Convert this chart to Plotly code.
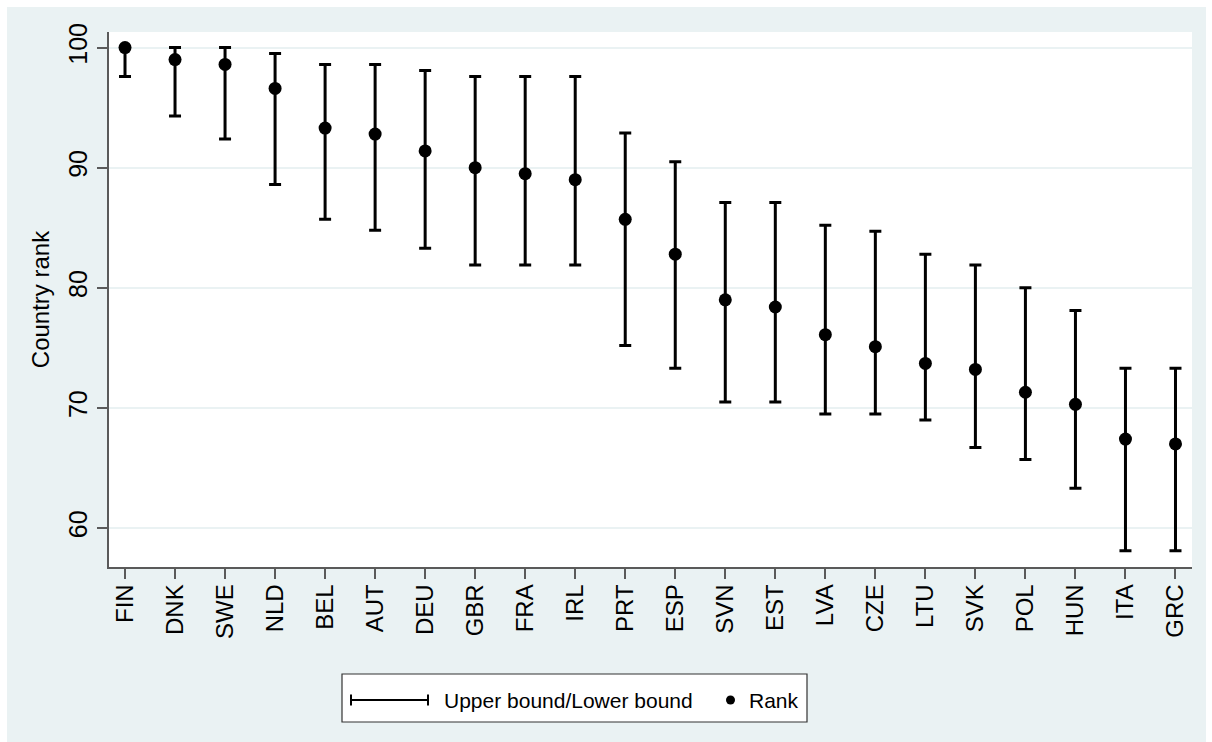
import plotly.graph_objects as go

# Country ranks with their upper/lower bounds
countries = ["FIN", "DNK", "SWE", "NLD", "BEL", "AUT", "DEU", "GBR", "FRA", "IRL", "PRT",
             "ESP", "SVN", "EST", "LVA", "CZE", "LTU", "SVK", "POL", "HUN", "ITA", "GRC"]
rank = [100.0, 99.0, 98.6, 96.6, 93.3, 92.8, 91.4, 90.0, 89.5, 89.0, 85.7,
        82.8, 79.0, 78.4, 76.1, 75.1, 73.7, 73.2, 71.3, 70.3, 67.4, 67.0]
upper = [100.0, 100.0, 100.0, 99.5, 98.6, 98.6, 98.1, 97.6, 97.6, 97.6, 92.9,
         90.5, 87.1, 87.1, 85.2, 84.7, 82.8, 81.9, 80.0, 78.1, 73.3, 73.3]
lower = [97.6, 94.3, 92.4, 88.6, 85.7, 84.8, 83.3, 81.9, 81.9, 81.9, 75.2,
         73.3, 70.5, 70.5, 69.5, 69.5, 69.0, 66.7, 65.7, 63.3, 58.1, 58.1]
y_ticks = [60, 70, 80, 90, 100]

W, H = 1212, 742
ML, MR, MT, MB = 109, 20, 32, 175
BG = "#EAF2F3"
FONT = "Liberation Sans, Arial, sans-serif"

plot_w = W - ML - MR
plot_h = H - MT - MB


def px(x):
    return (x - ML) / plot_w


def py(y):
    return (H - MB - y) / plot_h


err_plus = [u - r for u, r in zip(upper, rank)]
err_minus = [r - l for r, l in zip(rank, lower)]

fig = go.Figure()
fig.add_trace(go.Scatter(
    x=countries, y=rank, mode="markers",
    marker=dict(color="black", size=13),
    error_y=dict(type="data", symmetric=False, array=err_plus, arrayminus=err_minus,
                 color="black", thickness=3, width=6),
    showlegend=False,
))

shapes = [
    # graph region background
    dict(type="rect", xref="paper", yref="paper", x0=px(7), x1=px(1206), y0=py(7), y1=py(745),
         fillcolor=BG, line=dict(width=0), layer="below"),
    # plot region
    dict(type="rect", xref="paper", yref="paper", x0=0, x1=1, y0=0, y1=1,
         fillcolor="white", line=dict(width=0), layer="below"),
    # legend box
    dict(type="rect", xref="paper", yref="paper", x0=px(342), x1=px(807), y0=py(674), y1=py(722),
         fillcolor="white", line=dict(color="#333333", width=1.2), layer="above"),
    # legend key: capped range line
    dict(type="line", xref="paper", yref="paper", x0=px(351), x1=px(428), y0=py(700), y1=py(700),
         line=dict(color="black", width=2)),
    dict(type="line", xref="paper", yref="paper", x0=px(351), x1=px(351), y0=py(694.5), y1=py(705.5),
         line=dict(color="black", width=2)),
    dict(type="line", xref="paper", yref="paper", x0=px(428), x1=px(428), y0=py(694.5), y1=py(705.5),
         line=dict(color="black", width=2)),
    # legend key: rank marker
    dict(type="circle", xref="paper", yref="paper", x0=px(726), x1=px(735), y0=py(695.5), y1=py(704.5),
         fillcolor="black", line=dict(color="black", width=0)),
]

annotations = [
    dict(text="Upper bound/Lower bound", xref="paper", yref="paper", x=px(442), y=py(700),
         xanchor="left", yanchor="middle", showarrow=False, font=dict(family=FONT, size=21, color="black")),
    dict(text="Rank", xref="paper", yref="paper", x=px(747), y=py(700),
         xanchor="left", yanchor="middle", showarrow=False, font=dict(family=FONT, size=21, color="black")),
]

fig.update_layout(
    width=W, height=H,
    margin=dict(l=ML, r=MR, t=MT, b=MB, pad=0),
    paper_bgcolor="white",
    plot_bgcolor="white",
    font=dict(family=FONT, color="black"),
    shapes=shapes,
    annotations=annotations,
    xaxis=dict(
        type="category", range=[-0.32, 21.33],
        showline=True, linecolor="#5a5a5a", linewidth=1.5,
        ticks="outside", ticklen=10, tickwidth=1.5, tickcolor="#5a5a5a",
        tickangle=-90, tickfont=dict(family=FONT, size=24, color="black"),
        ticklabelstandoff=-4,
        showgrid=False, zeroline=False,
    ),
    yaxis=dict(
        range=[56.75, 101.3], tickvals=y_ticks, ticktext=[str(v) for v in y_ticks],
        showline=True, linecolor="#5a5a5a", linewidth=1.5,
        ticks="outside", ticklen=10, tickwidth=1.5, tickcolor="#5a5a5a",
        tickangle=-90, tickfont=dict(family=FONT, size=25, color="black"),
        showgrid=True, gridcolor=BG, gridwidth=2, zeroline=False,
        title=dict(text="Country rank", font=dict(family=FONT, size=24, color="black"), standoff=8),
    ),
)

fig.write_html("out.html")
